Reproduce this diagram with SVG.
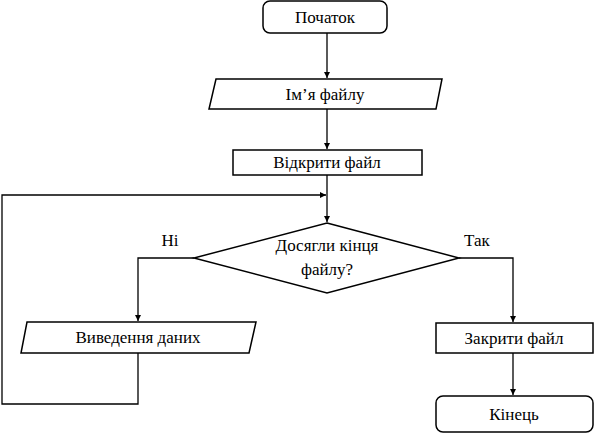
<svg xmlns="http://www.w3.org/2000/svg" width="596" height="436" viewBox="0 0 596 436">
<defs>
<marker id="arr" viewBox="0 0 10 10" refX="10" refY="5" markerWidth="6" markerHeight="6" orient="auto" markerUnits="userSpaceOnUse">
<path d="M0,0 L10,5 L0,10 z" fill="#000"/>
</marker>
</defs>
<style>
.s{fill:#fff;stroke:#000;stroke-width:1.5}
.c{fill:none;stroke:#000;stroke-width:1.3}
</style>
<rect width="596" height="436" fill="#fff"/>
<g font-family="Liberation Serif, Times New Roman, Noto Serif, DejaVu Serif, serif" font-size="17" text-anchor="middle" fill="#000">
<g id="connectors">
<path class="c" d="M327,33 V78" marker-end="url(#arr)"/>
<path class="c" d="M327,109 V149" marker-end="url(#arr)"/>
<path class="c" d="M327,175 V222" marker-end="url(#arr)"/>
<path class="c" d="M194,258 H138 V321" marker-end="url(#arr)"/>
<path class="c" d="M138,353 V404 H2 V195 H326" marker-end="url(#arr)"/>
<path class="c" d="M459,258 H513 V322" marker-end="url(#arr)"/>
<path class="c" d="M513,353 V395" marker-end="url(#arr)"/>
<text x="170" y="246">Ні</text>
<text x="477" y="246">Так</text>
</g>
<g id="start">
<rect class="s" x="263" y="1" width="124" height="32" rx="7"/>
<text x="325" y="23">Початок</text>
</g>
<g id="input">
<path class="s" d="M216,79 H442 L436,109 H209 z"/>
<text x="325" y="100">Ім’я файлу</text>
</g>
<g id="open">
<rect class="s" x="233" y="150" width="189" height="25"/>
<text x="327" y="168">Відкрити файл</text>
</g>
<g id="decision">
<path class="s" d="M327,223 L459,258 L327,293 L194,258 z"/>
<text x="327" y="251">Досягли кінця</text>
<text x="327" y="275">файлу?</text>
</g>
<g id="output">
<path class="s" d="M27,322 H256 L249,353 H21 z"/>
<text x="138" y="343">Виведення даних</text>
</g>
<g id="close">
<rect class="s" x="436" y="323" width="157" height="30"/>
<text x="514" y="344">Закрити файл</text>
</g>
<g id="end">
<rect class="s" x="436" y="396" width="157" height="36" rx="7"/>
<text x="514" y="420">Кінець</text>
</g>
</g>
</svg>
